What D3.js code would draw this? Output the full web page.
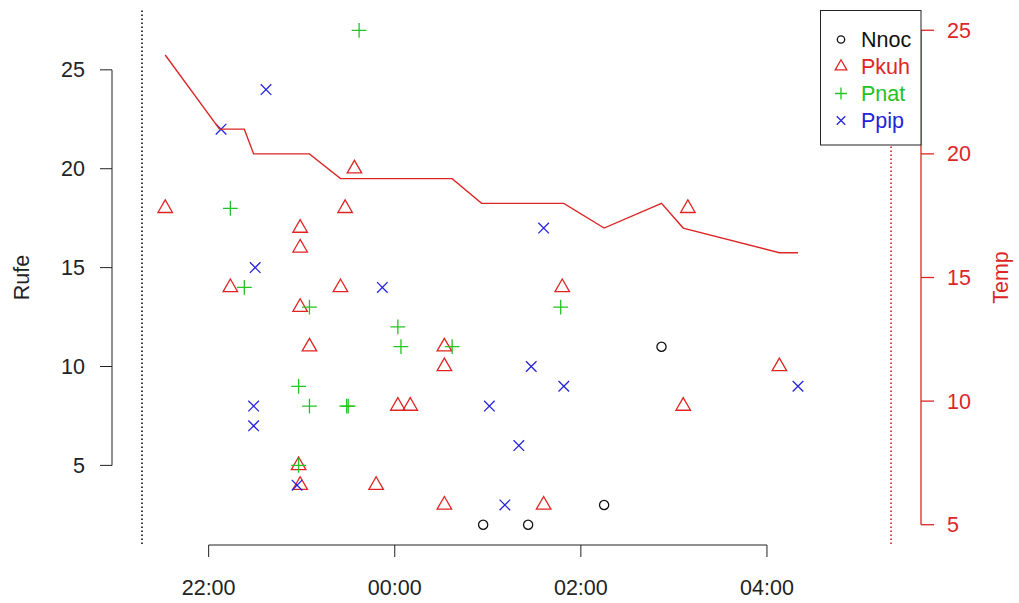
<!DOCTYPE html>
<html>
<head>
<meta charset="utf-8">
<script src="https://cdn.jsdelivr.net/npm/d3@7"></script>
<style>
  body { margin: 0; background: #fff; }
  svg { display: block; font-family: "Liberation Sans", Arial, sans-serif; }
</style>
</head>
<body>
<svg></svg>
<script>
// sunset / sunrise bounds of the night
var nightStart = "21:17";
var nightEnd = "05:20";

var species = ["Nnoc", "Pkuh", "Pnat", "Ppip"];
var speciesColors = ["#111111", "#e02424", "#22c322", "#2424dd"];

// calls per species: [time, Rufe]
var nnoc = [["00:57", 2], ["01:26", 2], ["02:15", 3], ["02:52", 11]];
var pkuh = [["21:32", 18], ["22:14", 14], ["22:59", 17], ["22:59", 16], ["22:59", 13],
            ["23:05", 11], ["22:58", 5], ["22:59", 4], ["23:25", 14], ["23:28", 18],
            ["23:34", 20], ["23:48", 4], ["00:02", 8], ["00:10", 8], ["00:32", 11],
            ["00:32", 10], ["00:32", 3], ["01:36", 3], ["01:48", 14], ["03:06", 8],
            ["03:09", 18], ["04:08", 10]];
var pnat = [["22:14", 18], ["22:23", 14], ["22:58", 9], ["22:58", 5], ["23:05", 13],
            ["23:05", 8], ["23:29", 8], ["23:30", 8], ["23:37", 27], ["00:02", 12],
            ["00:04", 11], ["00:37", 11], ["01:47", 13]];
var ppip = [["22:08", 22], ["22:29", 8], ["22:29", 7], ["22:30", 15], ["22:37", 24],
            ["22:57", 4], ["23:52", 14], ["01:01", 8], ["01:11", 3], ["01:20", 6],
            ["01:28", 10], ["01:36", 17], ["01:49", 9], ["04:20", 9]];

// temperature course: [time, Temp]
var temp = [["21:32", 24], ["22:07", 21], ["22:23", 21], ["22:29", 20], ["23:05", 20],
            ["23:25", 19], ["00:37", 19], ["00:56", 18], ["01:49", 18], ["02:15", 17],
            ["02:52", 18], ["03:06", 17], ["04:08", 16], ["04:20", 16]];

var rufeTicks = [5, 10, 15, 20, 25];
var tempTicks = [5, 10, 15, 20, 25];
var tempLim = [5, 25];

var width = 1019, height = 603;
var plotL = 112, plotR = 921, plotT = 10.5, plotB = 544.5;

var parseT = d3.timeParse("%H:%M");
function toDate(s) {
  var d = parseT(s);
  if (d.getHours() < 12) d = d3.timeDay.offset(d, 1);
  return d;
}

// R style 4% extension of a range
function extend(lo, hi) {
  var pad = (hi - lo) * 0.04;
  return [lo - pad, hi + pad];
}

var t0 = toDate(nightStart), t1 = toDate(nightEnd);
var xPad = (t1 - t0) * 0.04;
var x = d3.scaleTime()
  .domain([new Date(+t0 - xPad), new Date(+t1 + xPad)])
  .range([plotL, plotR]);

var allRufe = [].concat(nnoc, pkuh, pnat, ppip).map(d => d[1]);
var y = d3.scaleLinear()
  .domain(extend(d3.min(allRufe), d3.max(allRufe)))
  .range([plotB, plotT]);

var y2 = d3.scaleLinear()
  .domain(extend(tempLim[0], tempLim[1]))
  .range([plotB, plotT]);

var svg = d3.select("svg").attr("width", width).attr("height", height);

// marker shapes as in R pch 1, 2, 3, 4
function marker(g, kind, color, s) {
  if (kind === 0) {
    g.append("circle").attr("r", 4.6 * s);
  } else if (kind === 1) {
    var r = 8.4 * s;
    var xc = r * Math.sqrt(3) / 2, yc = r / 2;
    g.append("path").attr("d", "M0," + (-r) + "L" + xc + "," + yc + "L" + (-xc) + "," + yc + "Z");
  } else if (kind === 2) {
    var a = 7.4 * s;
    g.append("path").attr("d", "M" + (-a) + ",0H" + a + "M0," + (-a) + "V" + a);
  } else {
    var b = 5.3 * s;
    g.append("path").attr("d", "M" + (-b) + "," + (-b) + "L" + b + "," + b + "M" + (-b) + "," + b + "L" + b + "," + (-b));
  }
  g.selectAll("*").attr("fill", "none").attr("stroke", color).attr("stroke-width", 1.3);
}

var series = [nnoc, pkuh, pnat, ppip];
var pointsGp = svg.append("g").classed("points", true);
series.forEach(function(data, i) {
  pointsGp.selectAll("g.s" + i)
    .data(data)
    .enter()
    .append("g")
      .attr("class", "s" + i)
      .attr("transform", d => "translate(" + x(toDate(d[0])) + "," + y(d[1]) + ")")
      .each(function() { marker(d3.select(this), i, speciesColors[i], 1); });
});

// left axis
var axisColor = "#222";
var axL = svg.append("g");
axL.append("line")
  .attr("x1", plotL).attr("x2", plotL)
  .attr("y1", y(rufeTicks[0])).attr("y2", y(rufeTicks[rufeTicks.length - 1]))
  .attr("stroke", axisColor);
axL.selectAll("line.tick").data(rufeTicks).enter().append("line")
  .attr("class", "tick")
  .attr("x1", plotL - 12).attr("x2", plotL)
  .attr("y1", d => y(d)).attr("y2", d => y(d))
  .attr("stroke", axisColor);
axL.selectAll("text").data(rufeTicks).enter().append("text")
  .attr("x", 85).attr("y", d => y(d) + 7.5)
  .attr("text-anchor", "end")
  .attr("font-size", 21.5).attr("fill", "#222")
  .text(d => d);
svg.append("text")
  .attr("transform", "translate(29," + (plotT + plotB) / 2 + ") rotate(-90)")
  .attr("text-anchor", "middle")
  .attr("font-size", 21.5).attr("fill", "#222")
  .text("Rufe");

// bottom axis
var xTicks = x.ticks(d3.timeHour.every(2));
var axB = svg.append("g");
axB.append("line")
  .attr("x1", x(xTicks[0])).attr("x2", x(xTicks[xTicks.length - 1]))
  .attr("y1", 545).attr("y2", 545)
  .attr("stroke", axisColor);
axB.selectAll("line.tick").data(xTicks).enter().append("line")
  .attr("class", "tick")
  .attr("x1", d => x(d)).attr("x2", d => x(d))
  .attr("y1", 545).attr("y2", 557)
  .attr("stroke", axisColor);
axB.selectAll("text").data(xTicks).enter().append("text")
  .attr("x", d => x(d)).attr("y", 595)
  .attr("text-anchor", "middle")
  .attr("font-size", 21.5).attr("fill", "#222")
  .text(d3.timeFormat("%H:%M"));

// sunset / sunrise markers
svg.append("line")
  .attr("x1", x(t0)).attr("x2", x(t0)).attr("y1", plotT).attr("y2", 545)
  .attr("stroke", "#111").attr("stroke-width", 1.6).attr("stroke-dasharray", "1.6,2.4");
svg.append("line")
  .attr("x1", x(t1)).attr("x2", x(t1)).attr("y1", plotT).attr("y2", 545)
  .attr("stroke", "#cc2222").attr("stroke-width", 1.6).attr("stroke-dasharray", "1.6,2.4");

// temperature line
var red = "#dc2626";
svg.append("path")
  .datum(temp)
  .attr("fill", "none")
  .attr("stroke", red)
  .attr("stroke-width", 1.4)
  .attr("d", d3.line().x(d => x(toDate(d[0]))).y(d => y2(d[1])));

// right axis
var axR = svg.append("g");
axR.append("line")
  .attr("x1", plotR).attr("x2", plotR)
  .attr("y1", y2(tempTicks[0])).attr("y2", y2(tempTicks[tempTicks.length - 1]))
  .attr("stroke", red).attr("stroke-width", 1.3);
axR.selectAll("line.tick").data(tempTicks).enter().append("line")
  .attr("class", "tick")
  .attr("x1", plotR).attr("x2", plotR + 13)
  .attr("y1", d => y2(d)).attr("y2", d => y2(d))
  .attr("stroke", red).attr("stroke-width", 1.3);
axR.selectAll("text").data(tempTicks).enter().append("text")
  .attr("x", 947).attr("y", d => y2(d) + 7.5)
  .attr("font-size", 21.5).attr("fill", red)
  .text(d => d);
svg.append("text")
  .attr("transform", "translate(1008," + (plotT + plotB) / 2 + ") rotate(-90)")
  .attr("text-anchor", "middle")
  .attr("font-size", 21.5).attr("fill", red)
  .text("Temp");

// legend, top right
var legend = svg.append("g");
legend.append("rect")
  .attr("x", 820.5).attr("y", plotT).attr("width", plotR - 820.5).attr("height", 134.5)
  .attr("fill", "#fff").attr("stroke", "#222");
species.forEach(function(name, i) {
  var ly = 39.5 + i * 27;
  marker(legend.append("g").attr("transform", "translate(841," + ly + ")"), i, speciesColors[i], 0.8);
  legend.append("text")
    .attr("x", 861).attr("y", ly + 7.5)
    .attr("font-size", 21.5).attr("fill", speciesColors[i])
    .text(name);
});
</script>
</body>
</html>
